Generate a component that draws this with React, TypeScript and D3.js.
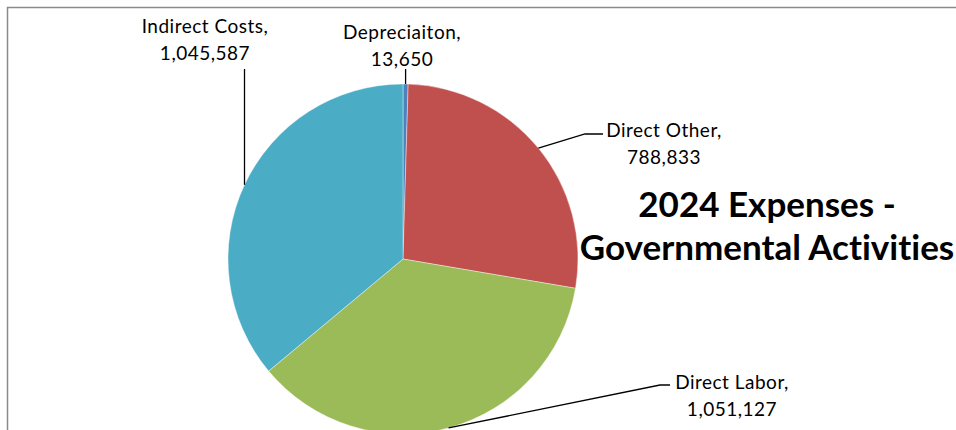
import React from "react";
import * as d3 from "d3";

// slice data, clockwise from 12 o'clock
const categories = ["Depreciaiton", "Direct Other", "Direct Labor", "Indirect Costs"];
const values = [13650, 788833, 1051127, 1045587];
const colors = ["#4F81BD", "#C0504D", "#9BBB59", "#4BACC6"];
const titleLines = ["2024 Expenses -", "Governmental Activities"];

const width = 956;
const height = 430;
const cx = 403;
const cy = 259;
const radius = 175;

// where each data label sits and how its leader line bends (page coords)
const labelLayout = [
  { tx: 402, ty: 39, elbow: null as null | [number, number], end: null as null | [number, number], top: 69 },
  { tx: 664, ty: 137, elbow: [585, 134] as [number, number], end: [603, 134] as [number, number], top: 0 },
  { tx: 732, ty: 389, elbow: [660, 385] as [number, number], end: [670, 385] as [number, number], top: 0 },
  { tx: 205, ty: 33, elbow: null, end: null, top: 69 },
];

const fmt = d3.format(",");

export default function App() {
  const data = categories.map((c, i) => ({ name: c, value: values[i], color: colors[i] }));
  const pie = d3
    .pie<{ name: string; value: number; color: string }>()
    .value((d) => d.value)
    .sort(null);
  const arcs = pie(data);
  const arc = d3
    .arc<d3.PieArcDatum<{ name: string; value: number; color: string }>>()
    .innerRadius(0)
    .outerRadius(radius);

  return (
    <svg
      width={width}
      height={height}
      style={{ position: "absolute", left: 0, top: 0, background: "#fff", fontVariantLigatures: "none" }}
      fontFamily="Lato, 'Open Sans', sans-serif"
    >
      <rect x={7.5} y={7.5} width={1200} height={1000} fill="#fff" stroke="#8a8a8a" strokeWidth={1.5} />
      <g transform={`translate(${cx},${cy})`}>
        {arcs.map((a, i) => (
          <path key={i} d={arc(a) ?? ""} fill={a.data.color} stroke="#fff" strokeWidth={0.4} />
        ))}
      </g>
      {arcs.map((a, i) => {
        const mid = (a.startAngle + a.endAngle) / 2;
        const px = cx + radius * Math.sin(mid);
        const py = cy - radius * Math.cos(mid);
        const lay = labelLayout[i];
        const pts: [number, number][] = [[px, py]];
        if (lay.elbow && lay.end) {
          pts.push(lay.elbow, lay.end);
        } else {
          pts.push([px, lay.top]);
        }
        const lineGen = d3.line();
        return (
          <g key={i} fontSize={19} letterSpacing={0.5}>
            <path d={lineGen(pts) ?? ""} fill="none" stroke="#000" strokeWidth={1.3} />
            <text x={lay.tx} y={lay.ty} textAnchor="middle" fill="#000">
              {a.data.name + ","}
            </text>
            <text x={lay.tx} y={lay.ty + 27} textAnchor="middle" fill="#000">
              {fmt(a.data.value)}
            </text>
          </g>
        );
      })}
      {titleLines.map((t, i) => (
        <text
          key={i}
          x={767}
          y={217 + i * 43}
          textAnchor="middle"
          fontSize={35}
          fontWeight="bold"
          fill="#000"
        >
          {t}
        </text>
      ))}
    </svg>
  );
}
